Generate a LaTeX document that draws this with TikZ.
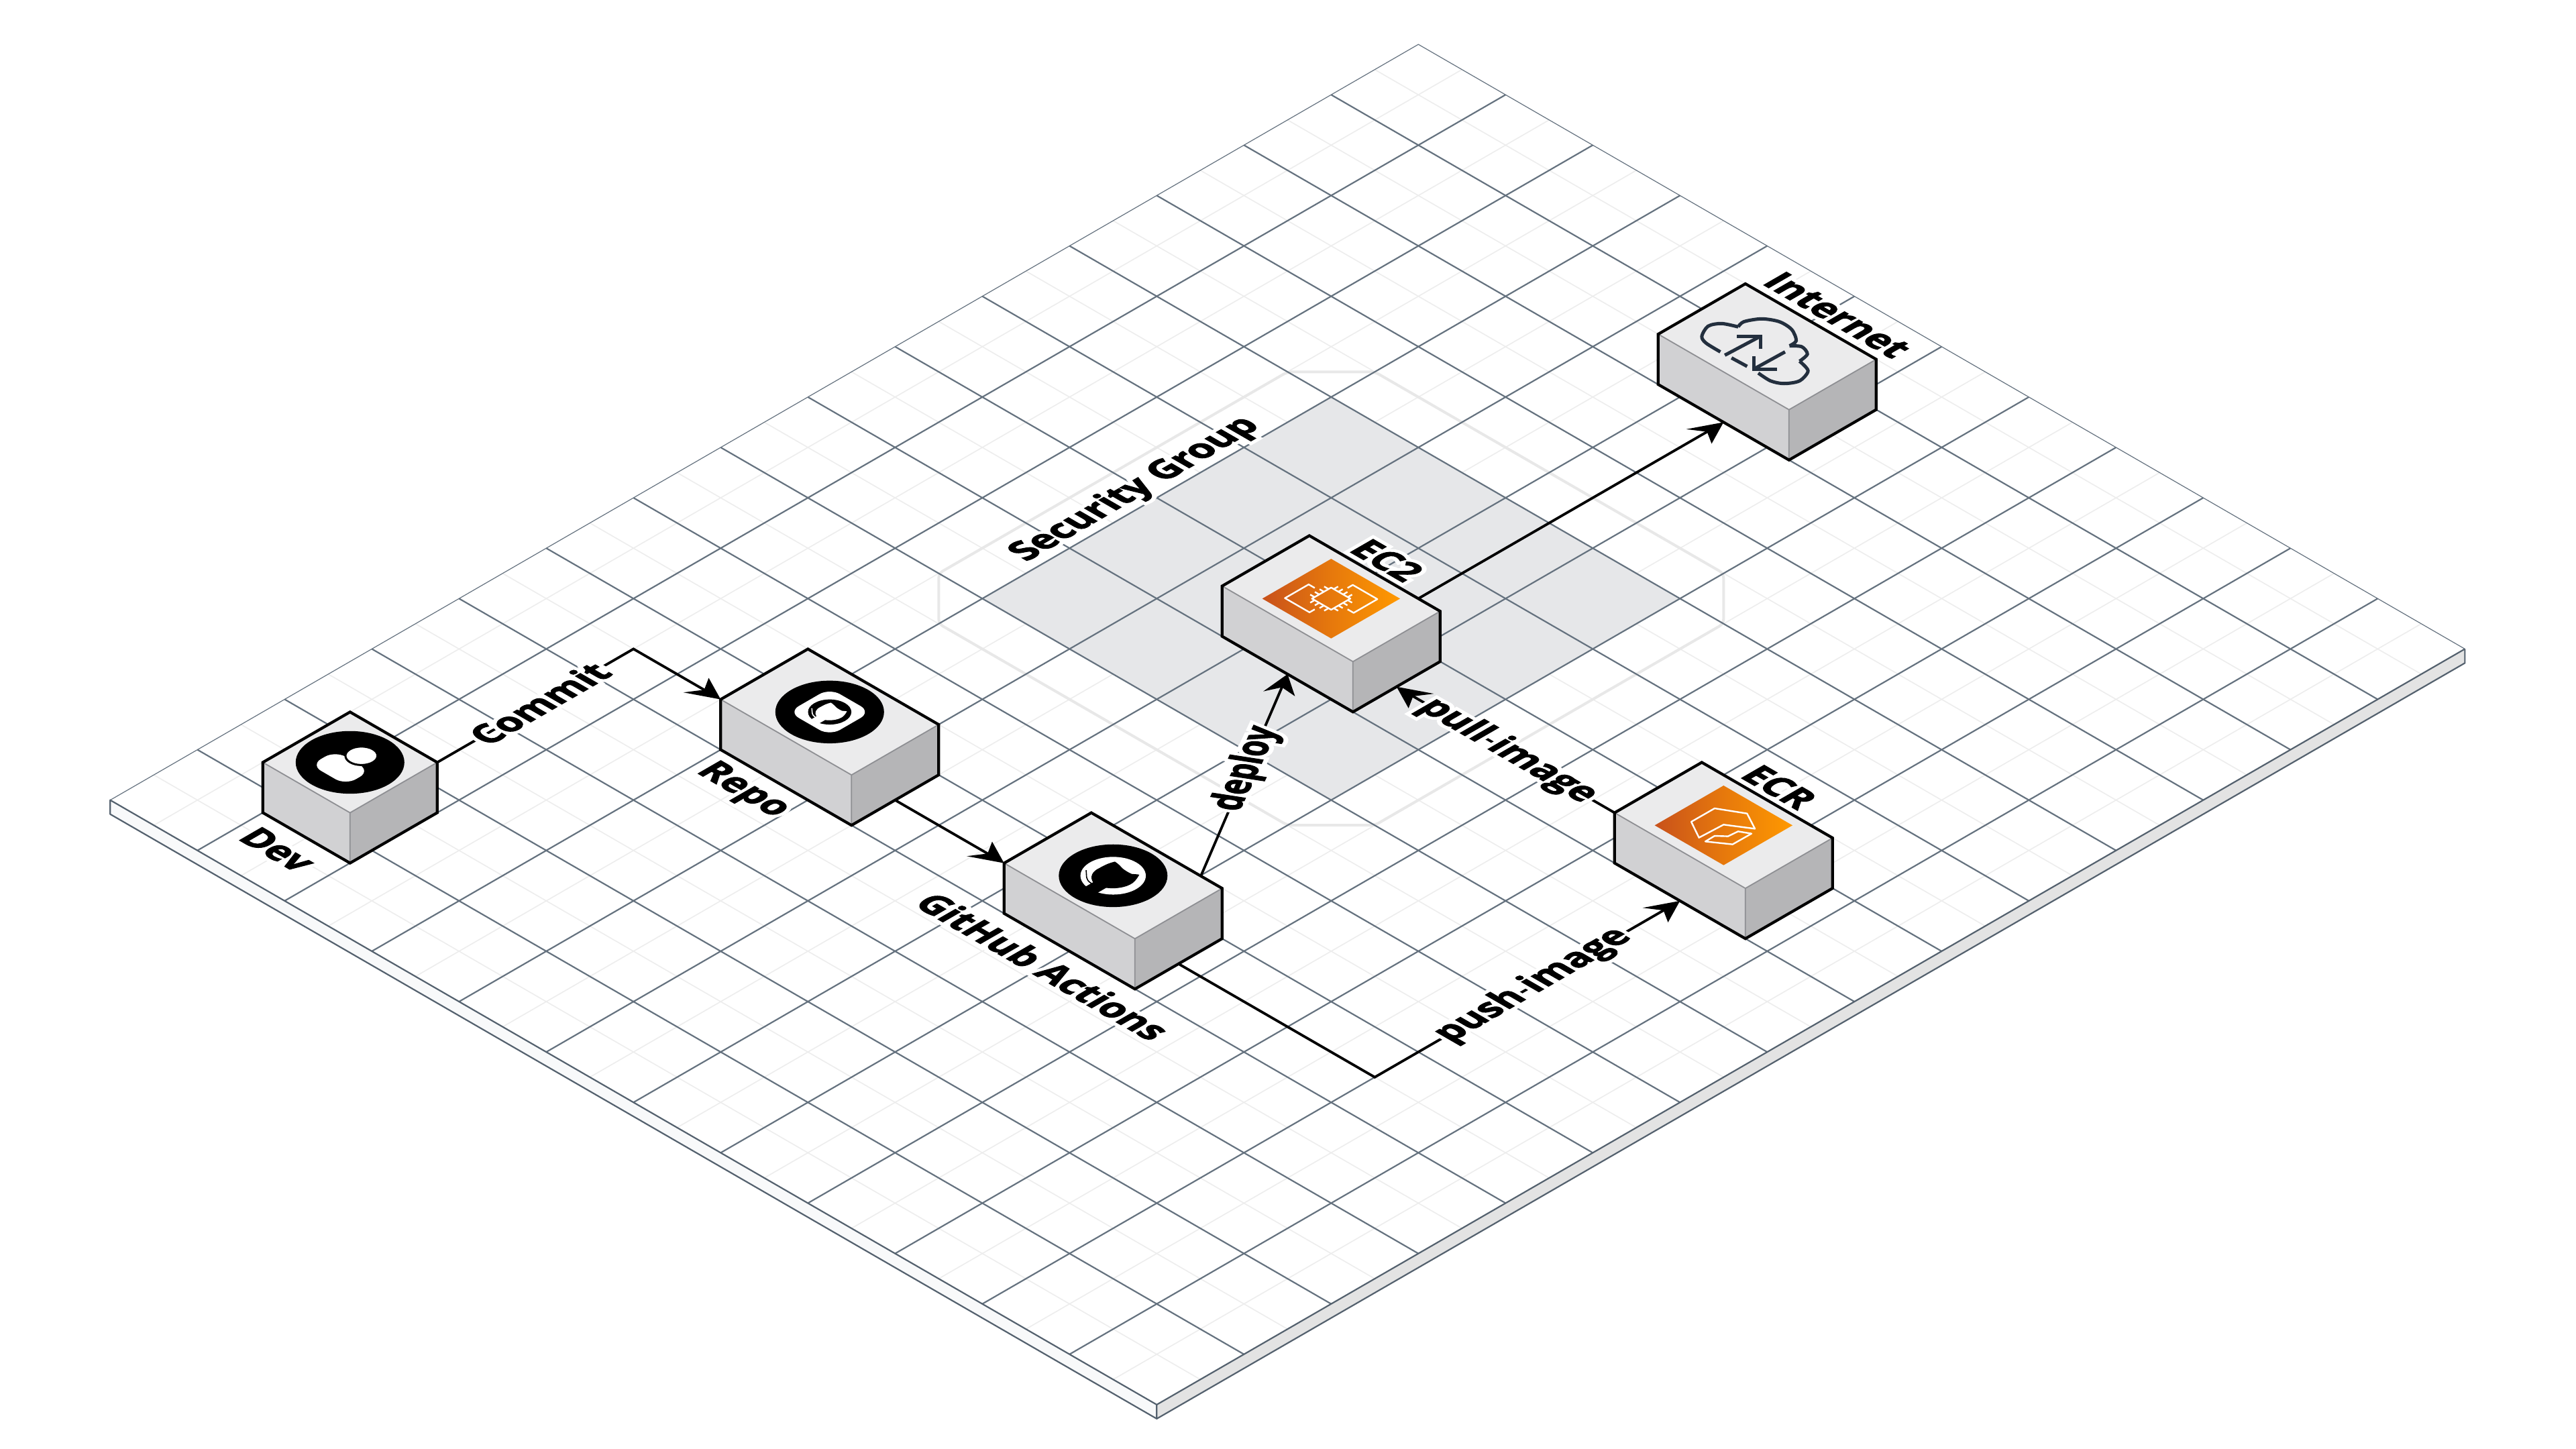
\documentclass[tikz,border=0pt]{standalone}
\usepackage{fontspec}
\setmainfont{Open Sans}
\usetikzlibrary{calc, arrows.meta}

\definecolor{gridmajor}{HTML}{65727F}
\definecolor{gridminor}{HTML}{EDEDED}
\definecolor{boardedge}{HTML}{54616E}
\definecolor{boardleft}{HTML}{F8F9FA}
\definecolor{boardright}{HTML}{E3E3E3}
\definecolor{sgfill}{HTML}{E6E7E9}
\definecolor{sgline}{HTML}{E8E8E8}
\definecolor{boxtop}{HTML}{EBEBEC}
\definecolor{boxleft}{HTML}{D1D1D3}
\definecolor{boxright}{HTML}{B5B5B7}
\definecolor{boxinner}{HTML}{8E8F93}
\definecolor{awsdark}{HTML}{C8511B}
\definecolor{awslight}{HTML}{FF9900}
\definecolor{awsnavy}{HTML}{232F3E}

\tikzset{
	minorline/.style={gridminor, line width=.016cm},
	majorline/.style={gridmajor, line width=.022cm},
	conn/.style={black, line width=.038cm, line join=miter},
	tipv/.style={-{Stealth[length=12pt, width=10.6pt, slant=-.58]}},
	tipu/.style={-{Stealth[length=12pt, width=10.6pt, slant=.58]}},
	labelfont/.style={font=\fontsize{15.5}{20}\selectfont\bfseries, inner sep=0pt},
	labelv/.style={labelfont, cm={.866,.5,-.866,.5,(0,0)}},
	labelu/.style={labelfont, cm={.866,-.5,.866,.5,(0,0)}},
	iconline/.style={white, line width=.024cm, line join=round},
}

% white rim round a label
\newcommand{\halo}[1]{\spaceskip=.27em\relax\rlap{\addfontfeature{FakeBold=24}\color{white}#1}{\addfontfeature{FakeBold=2.5}#1}}

% name, i, j, size along i, size along j
\newcommand{\isoplace}[5]{
	\coordinate (#1-gl) at (#2,#3);
	\coordinate (#1-gf) at (#2+#4,#3);
	\coordinate (#1-gr) at (#2+#4,#3+#5);
	\coordinate (#1-l) at ([yshift=.75cm]#2,#3);
	\coordinate (#1-f) at ([yshift=.75cm]#2+#4,#3);
	\coordinate (#1-r) at ([yshift=.75cm]#2+#4,#3+#5);
	\coordinate (#1-t) at ([yshift=.75cm]#2,#3+#5);
	\coordinate (#1-c) at ($(#1-l)!.5!(#1-r)$);
	\coordinate (#1-em) at ($(#1-gf)!.5!(#1-gr)$);
	\coordinate (#1-fm) at ($(#1-gl)!.5!(#1-gf)$);
	\coordinate (#1-bm) at (#2+#4/2,#3+#5);
}

\newcommand{\isobox}[1]{
	\fill[boxtop] (#1-l) -- (#1-t) -- (#1-r) -- (#1-f) -- cycle;
	\fill[boxleft] (#1-l) -- (#1-f) -- (#1-gf) -- (#1-gl) -- cycle;
	\fill[boxright] (#1-f) -- (#1-r) -- (#1-gr) -- (#1-gf) -- cycle;
	\draw[boxinner, line width=.018cm] (#1-l) -- (#1-f) -- (#1-r) (#1-f) -- (#1-gf);
	\draw[black, line width=.042cm] (#1-l) -- (#1-t) -- (#1-r) -- (#1-gr) -- (#1-gf) -- (#1-gl) -- cycle;
}

\newcommand{\catmark}[1]{
	\fill[#1] (-.05,-.27) -- (-.05,-.18) .. controls (-.12,-.15) and (-.165,-.08) .. (-.155,0)
		.. controls (-.155,.06) and (-.15,.1) .. (-.13,.15) .. controls (-.09,.15) and (-.05,.135) .. (-.01,.125)
		.. controls (.03,.12) and (.07,.12) .. (.09,.125) .. controls (.11,.14) and (.125,.155) .. (.14,.16)
		.. controls (.17,.1) and (.19,.05) .. (.185,.01) .. controls (.18,-.07) and (.13,-.13) .. (.08,-.16)
		-- (.08,-.27) -- cycle;
	\draw[#1, line width=.016cm] (-.05,-.2) .. controls (-.12,-.2) and (-.14,-.16) .. (-.21,-.1);
}

\newcommand{\awsdiamond}{
	\shade[left color=awsdark, right color=awslight, middle color=awsdark!45!awslight]
		(-.395,-.395) -- (.395,-.395) -- (.395,.395) -- (-.395,.395) -- cycle;
}

\begin{document}
\begin{tikzpicture}[x={(1.3cm,-.751cm)}, y={(1.3cm,.751cm)}]
	\useasboundingbox (-1.643cm,11.927cm) rectangle (36.757cm,-9.673cm);

	% board
	\fill[white] (0,0) -- (12,0) -- (12,15) -- (0,15) -- cycle;
	\foreach \k in {.5,1.5,...,11.5}
		\draw[minorline] (\k,0) -- (\k,15);
	\foreach \k in {.5,1.5,...,14.5}
		\draw[minorline] (0,\k) -- (12,\k);

	% security group
	\draw[sgline, line width=.04cm, rounded corners=2pt] (2.5,7) -- (2.5,11) -- (3,11.5) -- (7,11.5) -- (7.5,11) -- (7.5,7) -- (7,6.5) -- (3,6.5) -- cycle;
	\fill[sgfill] (3,7) -- (7,7) -- (7,11) -- (3,11) -- cycle;

	\foreach \k in {1,...,11}
		\draw[majorline] (\k,0) -- (\k,15);
	\foreach \k in {1,...,14}
		\draw[majorline] (0,\k) -- (12,\k);

	\node[labelv] (sglabel) at (2.795,8.96) {\halo{Security Group}};

	\draw[gridmajor, line width=.012cm] (0,0) -- (0,15) -- (12,15);
	\fill[boardleft] (0,0) -- (12,0) -- ([yshift=-.21cm]12,0) -- ([yshift=-.21cm]0,0) -- cycle;
	\fill[boardright] (12,0) -- (12,15) -- ([yshift=-.21cm]12,15) -- ([yshift=-.21cm]12,0) -- cycle;
	\draw[boardedge, line width=.022cm, line join=round] (12,15) -- ([yshift=-.21cm]12,15) -- ([yshift=-.21cm]12,0) -- ([yshift=-.21cm]0,0) -- (0,0) -- (12,0) -- (12,15) (12,0) -- ([yshift=-.21cm]12,0);

	\isoplace{dev}{1}{.75}{1}{1}
	\isoplace{repo}{3}{4}{1.5}{1}
	\isoplace{actions}{6.25}{4}{1.5}{1}
	\isoplace{ec2}{4.75}{8}{1.5}{1}
	\isoplace{ecr}{9.25}{8}{1.5}{1}
	\isoplace{internet}{4.75}{13}{1.5}{1}

	\coordinate (commitbend) at (1.5,4.5);
	\coordinate (pushbend) at (10,4.5);
	\coordinate (deployout) at (7,5.51);

	% connectors
	\draw[conn, tipu] (dev-r) -- node[labelv, pos=.52] (commitlabel) {\halo{Commit}} (commitbend) -- (repo-l);
	\draw[conn, tipu] (repo-em) -- (actions-l);
	\draw[conn, -{Stealth[length=9pt, width=13pt, slant=-.26]}] (deployout) -- node[labelfont, cm={.317,.683,-1.183,.183,(0,0)}, pos=.53] (deploylabel) {\halo{deploy}} (ec2-fm);
	\draw[conn, tipv] (actions-em) -- (pushbend) -- node[labelv, pos=.52] (pushlabel) {\halo{push image}} (ecr-fm);
	\draw[conn, tipu] (ecr-l) -- node[labelu, pos=.49] (pulllabel) {\halo{pull image}} (ec2-em);
	\draw[conn, tipv] (ec2-bm) -- (internet-fm);

	\isobox{dev}
	\isobox{repo}
	\isobox{actions}
	\isobox{ec2}
	\isobox{ecr}
	\isobox{internet}

	% dev icon
	\begin{scope}[shift={(dev-c)}]
		\fill[black] (0,0) ellipse [x radius=.81cm, y radius=.467cm];
		\fill[white, rounded corners=5pt] (-.2,-.25) -- (.2,-.25) -- (.2,.03) -- (-.2,.03) -- cycle;
		\filldraw[fill=white, draw=black, line width=.03cm] (0,.131) ellipse [x radius=.239cm, y radius=.138cm];
	\end{scope}

	% repo icon
	\begin{scope}[shift={(repo-c)}]
		\fill[black] (0,0) ellipse [x radius=.81cm, y radius=.467cm];
		\fill[white, rounded corners=5pt] (-.236,-.236) -- (.236,-.236) -- (.236,.236) -- (-.236,.236) -- cycle;
		\fill[black] (0,0) ellipse [x radius=.323cm, y radius=.187cm];
		\begin{scope}[scale=.66]
			\catmark{white}
		\end{scope}
	\end{scope}

	% actions icon
	\begin{scope}[shift={(actions-c)}]
		\fill[black] (0,0) ellipse [x radius=.81cm, y radius=.467cm];
		\fill[white] (0,0) ellipse [x radius=.487cm, y radius=.281cm];
		\catmark{black}
	\end{scope}

	% ec2 icon
	\begin{scope}[shift={(ec2-c)}]
		\awsdiamond
		\draw[iconline] (-.11,-.11) -- (.11,-.11) -- (.11,.11) -- (-.11,.11) -- cycle;
		\foreach \p in {-.08,-.027,.027,.08} {
			\draw[iconline] (\p,-.11) -- (\p,-.16) (\p,.11) -- (\p,.16);
			\draw[iconline] (-.11,\p) -- (-.16,\p) (.11,\p) -- (.16,\p);
		}
		\draw[iconline] (-.2,.012) -- (-.27,.012) -- (-.27,-.26) -- (.012,-.26) -- (.012,-.2);
		\draw[iconline] (.2,-.012) -- (.27,-.012) -- (.27,.26) -- (-.012,.26) -- (-.012,.2);
	\end{scope}

	% ecr icon
	\begin{scope}[shift={(ecr-c)}]
		\awsdiamond
		\draw[iconline] (-.221,-.15) -- (-.22,.117) -- (.017,.252) -- (.213,.146) -- (-.007,.007) -- (-.019,-.263) -- cycle;
		\draw[iconline] (.055,-.265) -- (.053,-.156) -- (.134,-.083) -- (.143,.023) -- (.242,.078) -- (.24,-.137) -- cycle;
	\end{scope}

	% internet icon
	\begin{scope}[shift={(internet-c)}, x=.00333cm, y=-.00333cm, awsnavy, line width=.05cm]
		\draw plot[smooth] coordinates {(-210,23) (-275,-17) (-293,-47) (-265,-92) (-205,-104) (-130,-89)};
		\draw plot[smooth] coordinates {(-130,-89) (-105,-112) (-25,-125) (55,-112) (110,-77) (130,-27) (100,-4)};
		\draw plot[smooth] coordinates {(100,-4) (155,0) (180,33) (145,65)};
		\draw plot[smooth] coordinates {(145,65) (183,108) (145,153) (75,165) (15,153) (-40,118)};
		\draw (-160,50) -- (-90,88);
		\draw (-190,38) -- (-30,-47);
		\draw (-135,-45) -- (-30,-45) -- (-30,8);
		\draw (80,23) -- (-60,100);
		\draw (-60,43) -- (-60,100) -- (45,100);
	\end{scope}

	% box labels
	\node[labelu] (devlabel) at (1.45,.47) {\halo{Dev}};
	\node[labelu] (repolabel) at (3.53,3.72) {\halo{Repo}};
	\node[labelu] (actionslabel) at (7,3.7) {\halo{GitHub Actions}};
	\node[labelu] (ec2label) at (4.94,9.7) {\halo{EC2}};
	\node[labelu] (ecrlabel) at (9.44,9.7) {\halo{ECR}};
	\node[labelu] (internetlabel) at (5.09,14.72) {\halo{Internet}};
\end{tikzpicture}
\end{document}
